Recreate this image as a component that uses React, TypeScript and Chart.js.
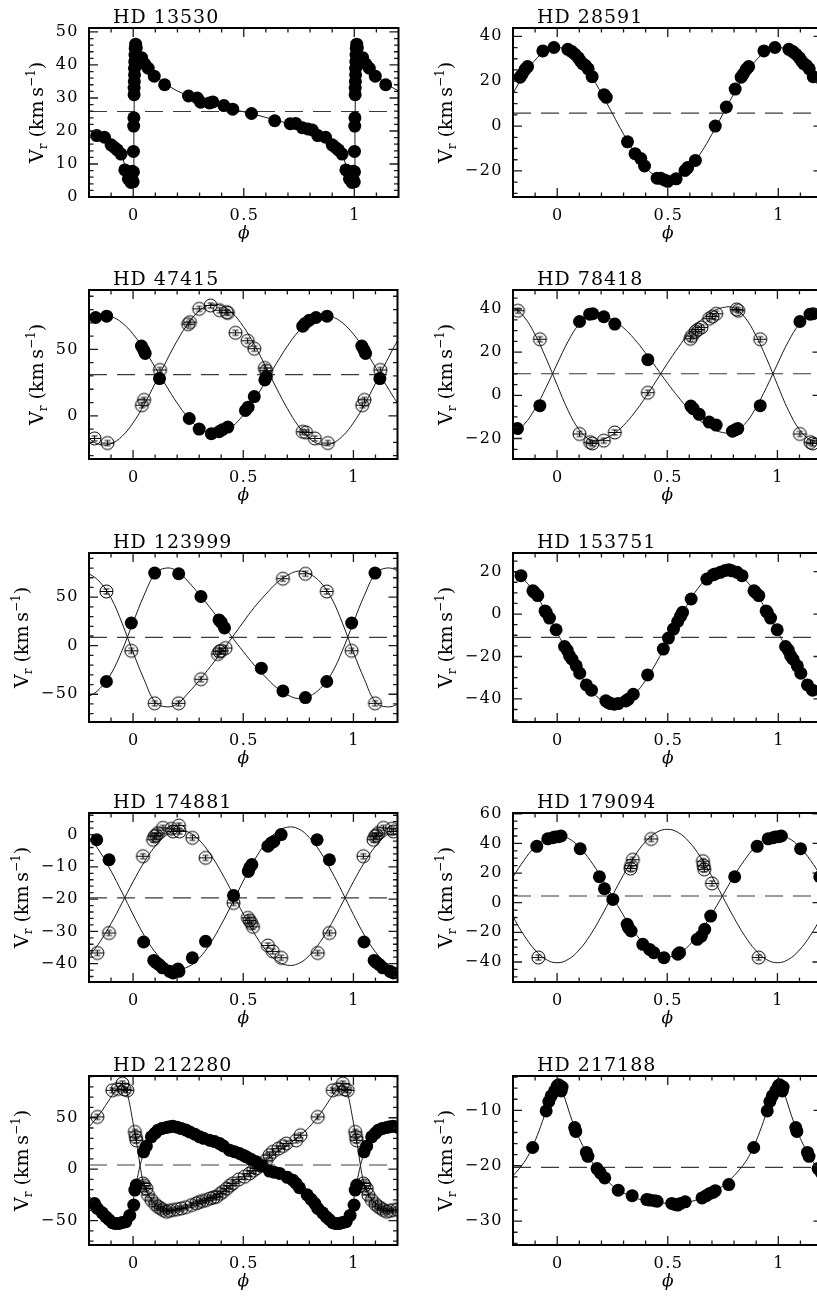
import React, { useEffect, useRef } from 'react';
import { Chart, registerables } from 'chart.js';

Chart.register(...registerables);

type Pt = [number, number];

// ---------- shared axis values ----------
const PHASE_LABELS = [0, 0.5, 1];
const PHASE_TICKS = [-0.1, 0, 0.1, 0.2, 0.3, 0.4, 0.5, 0.6, 0.7, 0.8, 0.9, 1, 1.1];
const CURVE_PHASES = [0, 0.05, 0.1, 0.15, 0.2, 0.25, 0.3, 0.35, 0.4, 0.45, 0.5, 0.55, 0.6, 0.65, 0.7, 0.75, 0.8, 0.85, 0.9, 0.95];

// ---------- panel descriptors ----------
const TITLES = ['HD 13530', 'HD 28591', 'HD 47415', 'HD 78418', 'HD 123999', 'HD 153751', 'HD 174881', 'HD 179094', 'HD 212280', 'HD 217188'];
const Y_MIN = [0, -31.6, -32.5, -29.5, -78.6, -50.9, -45.7, -53.5, -73.8, -34.3];
const Y_MAX = [51.2, 43.7, 94.7, 48.8, 95.5, 28.8, 6.7, 60.5, 90.6, -3.8];
const Y_MAJOR = [10, 20, 50, 20, 50, 20, 10, 20, 50, 10];
const Y_MINOR = [2, 5, 10, 5, 10, 5, 2, 5, 10, 2];
const GAMMA = [25.9, 5.8, 31, 10, 8.6, -11, -19.6, 4.5, 4, -20.3];

// ---------- HD 13530 ----------
const HD13530_RV: Pt[] = [
  [0.000, 4.6], [0.001, 7.6], [0.001, 13.8], [0.002, 21.5], [0.003, 24.0], [0.004, 31.0], [0.004, 33.0],
  [0.005, 35.0], [0.006, 37.0], [0.006, 39.0], [0.007, 41.0], [0.008, 43.0], [0.009, 45.0], [0.011, 46.3],
  [0.014, 45.2], [0.022, 42.3], [0.038, 42.2], [0.052, 40.3], [0.068, 39.0], [0.095, 36.6], [0.142, 34.0],
  [0.25, 30.6], [0.29, 30.0], [0.305, 28.7], [0.345, 28.5], [0.36, 28.8], [0.41, 27.7], [0.45, 26.6],
  [0.535, 25.3], [0.64, 23.1], [0.71, 22.2], [0.735, 22.3], [0.765, 21.0], [0.79, 20.6], [0.81, 20.3],
  [0.835, 18.6], [0.87, 18.1], [0.9, 15.8], [0.915, 15.0], [0.928, 14.3], [0.945, 13.0], [0.962, 8.2],
  [0.978, 5.5], [0.99, 4.4], [0.996, 7.8],
];
const HD13530_FIT: Pt[] = [
  [0.000, 5.5], [0.003, 20], [0.006, 38], [0.009, 45.5], [0.012, 46.2], [0.02, 43.8], [0.04, 41.3],
  [0.06, 39.6], [0.08, 38.0], [0.1, 36.7], [0.15, 34.0], [0.2, 32.1], [0.25, 30.6], [0.3, 29.4],
  [0.35, 28.4], [0.4, 27.5], [0.45, 26.6], [0.5, 25.8], [0.55, 25.0], [0.6, 24.1], [0.65, 23.2],
  [0.7, 22.3], [0.75, 21.3], [0.8, 20.2], [0.85, 18.7], [0.9, 16.4], [0.93, 14.4], [0.95, 12.3],
  [0.965, 9.0], [0.98, 5.5], [0.99, 4.3], [0.996, 4.5],
];

// ---------- HD 28591 ----------
const HD28591_RV: Pt[] = [
  [0.048, 34.2], [0.066, 33.2], [0.08, 32.0], [0.095, 30.5], [0.105, 29.0], [0.115, 27.8], [0.128, 27.0],
  [0.14, 25.5], [0.158, 22.0], [0.212, 14.0], [0.222, 12.8], [0.318, -7.0], [0.352, -12.3], [0.378, -14.5],
  [0.395, -17.8], [0.452, -23.2], [0.468, -23.3], [0.485, -24.0], [0.5, -24.6], [0.538, -23.5], [0.578, -19.8],
  [0.59, -18.5], [0.625, -15.3], [0.715, 0.0], [0.765, 8.5], [0.805, 16.5], [0.832, 21.8], [0.842, 23.2],
  [0.855, 25.3], [0.866, 26.5], [0.935, 33.5], [0.985, 35.0],
];
const HD28591_FIT = [35.0, 33.6, 29.4, 22.9, 14.6, 5.5, -3.6, -11.9, -18.4, -22.6, -24.0, -22.6, -18.4, -11.9, -3.6, 5.5, 14.6, 22.9, 29.4, 33.6];

// ---------- HD 47415 ----------
const HD47415_A: Pt[] = [
  [0.038, 52.5], [0.048, 49.5], [0.055, 47.0], [0.12, 28.0], [0.255, -2.0], [0.30, -10.0], [0.355, -13.5],
  [0.39, -12.0], [0.405, -10.5], [0.43, -8.5], [0.51, 4.0], [0.522, 6.5], [0.55, 14.5], [0.598, 27.0],
  [0.605, 29.5], [0.77, 67.5], [0.78, 69.5], [0.80, 72.0], [0.83, 74.0], [0.88, 75.0],
];
const HD47415_B: Pt[] = [
  [0.04, 8.0], [0.05, 12.0], [0.122, 34.5], [0.25, 69.0], [0.258, 70.5], [0.30, 80.5], [0.352, 83.0],
  [0.393, 79.5], [0.425, 78.0], [0.43, 77.5], [0.465, 62.5], [0.52, 56.5], [0.55, 50.5], [0.598, 36.0],
  [0.604, 34.0], [0.77, -12.0], [0.785, -12.5], [0.825, -17.0], [0.884, -20.5],
];
const HD47415_FIT_A = [61.5, 50.0, 36.6, 22.7, 9.6, -1.4, -9.3, -13.1, -12.7, -8.0, 0.5, 12.0, 25.4, 39.3, 52.4, 63.4, 71.3, 75.1, 74.7, 70.0];
const HD47415_FIT_B = [-5.3, 8.4, 24.4, 40.9, 56.5, 69.6, 79.0, 83.6, 83.0, 77.4, 67.3, 53.6, 37.6, 21.1, 5.5, -7.6, -17.0, -21.6, -21.0, -15.4];

// ---------- HD 78418 ----------
const HD78418_A: Pt[] = [
  [0.102, 34.2], [0.148, 37.6], [0.162, 37.8], [0.212, 36.4], [0.262, 33.0], [0.412, 16.5], [0.607, -5.0],
  [0.618, -6.2], [0.645, -8.8], [0.69, -12.4], [0.722, -13.8], [0.796, -16.6], [0.808, -16.0], [0.82, -15.4],
  [0.922, -4.8],
];
const HD78418_B: Pt[] = [
  [0.102, -17.9], [0.15, -21.7], [0.16, -22.3], [0.212, -21.0], [0.262, -17.2], [0.412, 1.2], [0.605, 26.2],
  [0.612, 27.5], [0.628, 29.5], [0.64, 30.5], [0.655, 31.5], [0.69, 35.5], [0.705, 36.5], [0.722, 37.8],
  [0.815, 39.8], [0.822, 39.2], [0.922, 26.0],
];
const HD78418_FIT_A = [14.5, 25.0, 33.0, 37.1, 37.2, 35.1, 31.4, 26.2, 19.8, 12.9, 5.8, -0.8, -6.8, -11.8, -15.3, -17.2, -17.2, -13.5, -6.2, 3.6];
const HD78418_FIT_B = [4.9, -7.0, -15.9, -20.6, -20.6, -18.3, -14.1, -8.2, -1.1, 6.7, 14.7, 22.2, 29.0, 34.5, 38.5, 40.6, 40.6, 36.4, 28.2, 17.2];

// ---------- HD 123999 ----------
const HD123999_A: Pt[] = [
  [0.098, 74.8], [0.207, 74.1], [0.308, 50.7], [0.39, 26.6], [0.4, 24.1], [0.415, 18.3], [0.582, -23.1],
  [0.68, -46.6], [0.782, -53.4], [0.879, -36.9], [0.992, 23.4],
];
const HD123999_B: Pt[] = [
  [0.098, -59.3], [0.207, -59.3], [0.308, -34.5], [0.385, -8.6], [0.392, -6.0], [0.4, -5.2], [0.42, -2.4],
  [0.68, 69.0], [0.782, 74.1], [0.879, 55.9], [0.992, -5.2],
];
const HD123999_FIT_A = [24, 52, 74, 80, 77, 66, 53, 39, 24, 8.6, -6, -20, -32, -43, -50.5, -54.5, -52, -44, -29, -5];
const HD123999_FIT_B = [-6.8, -34.8, -58, -63, -60, -48.8, -35.8, -21.8, -6.8, 8.6, 24.4, 39.5, 52.4, 64.3, 72.4, 76.8, 74.0, 65.4, 49.2, 23.3];

// ---------- HD 153751 ----------
const HD153751_RV: Pt[] = [
  [0.033, -15.3], [0.045, -17.0], [0.056, -19.7], [0.067, -21.3], [0.086, -24.4], [0.102, -27.9], [0.132, -33.4],
  [0.155, -35.9], [0.22, -40.9], [0.232, -41.8], [0.242, -42.2], [0.258, -42.5], [0.276, -42.2], [0.31, -41.0],
  [0.321, -40.2], [0.344, -37.8], [0.409, -28.7], [0.48, -16.5], [0.503, -11.3], [0.526, -7.1], [0.545, -3.5],
  [0.558, -1.0], [0.567, 0.8], [0.606, 7.1], [0.677, 16.5], [0.705, 18.5], [0.715, 18.9], [0.738, 19.7],
  [0.76, 20.6], [0.776, 20.9], [0.79, 20.4], [0.814, 19.7], [0.836, 18.1], [0.89, 11.0], [0.897, 10.2],
  [0.912, 8.7], [0.945, 1.5], [0.95, 0.8], [0.965, -1.9], [0.995, -7.4],
];
const HD153751_FIT = [-8.8, -18.8, -27.9, -35.5, -40.6, -42.7, -41.8, -37.8, -31.2, -22.6, -12.8, -2.8, 6.4, 13.9, 19.0, 21.1, 20.2, 16.2, 9.6, 1.0];

// ---------- HD 174881 ----------
const HD174881_A: Pt[] = [
  [0.048, -33.3], [0.094, -39.0], [0.103, -39.6], [0.118, -40.3], [0.133, -41.3], [0.166, -42.4], [0.181, -42.9],
  [0.204, -41.7], [0.208, -42.4], [0.269, -38.2], [0.329, -33.1], [0.456, -18.9], [0.523, -11.4], [0.529, -10.3],
  [0.539, -9.3], [0.612, -3.6], [0.627, -2.6], [0.639, -2.1], [0.672, 0.0], [0.835, -1.6], [0.891, -7.8],
];
const HD174881_B: Pt[] = [
  [0.045, -6.7], [0.091, -1.6], [0.098, -0.5], [0.105, -0.2], [0.113, 0.5], [0.136, 2.1], [0.174, 1.8],
  [0.181, 1.0], [0.208, 2.8], [0.211, 1.0], [0.269, -1.0], [0.329, -7.2], [0.456, -21.2], [0.521, -25.8],
  [0.529, -26.6], [0.536, -27.4], [0.544, -28.6], [0.612, -34.4], [0.634, -36.2], [0.672, -38.2], [0.838, -36.7],
  [0.891, -30.5],
];
const HD174881_FIT_A = [-24.8, -31.2, -36.4, -39.9, -41.5, -41.0, -38.3, -33.8, -27.9, -21.3, -14.4, -8.0, -2.8, 0.7, 2.3, 1.8, -0.9, -5.4, -11.3, -17.9];
const HD174881_FIT_B = [-14.6, -8.6, -3.6, -0.2, 1.3, 0.8, -1.7, -6.0, -11.6, -18.0, -24.6, -30.6, -35.6, -39.0, -40.5, -40.0, -37.5, -33.2, -27.6, -21.2];

// ---------- HD 179094 ----------
const HD179094_A: Pt[] = [
  [0.005, 44.5], [0.018, 45.0], [0.105, 36.4], [0.192, 17.5], [0.215, 9.4], [0.253, 2.2], [0.318, -14.6],
  [0.324, -16.9], [0.336, -19.1], [0.389, -28.1], [0.42, -31.5], [0.439, -33.7], [0.485, -37.1], [0.548, -34.8],
  [0.556, -33.7], [0.636, -24.7], [0.655, -22.5], [0.67, -18.0], [0.697, -9.0], [0.806, 17.5], [0.908, 38.0],
  [0.958, 43.1], [0.98, 43.8], [0.99, 44.3],
];
const HD179094_B: Pt[] = [
  [0.333, 23.0], [0.336, 25.0], [0.344, 29.0], [0.427, 43.0], [0.662, 28.0], [0.665, 25.0], [0.668, 22.5],
  [0.703, 13.0], [0.915, -37.0],
];
const HD179094_FIT_A = [45.5, 43.5, 37.7, 28.6, 17.2, 4.5, -8.2, -19.6, -28.7, -34.5, -36.5, -34.5, -28.7, -19.6, -8.2, 4.5, 17.2, 28.6, 37.7, 43.5];
const HD179094_FIT_B = [-40.5, -38.3, -31.9, -22.0, -9.4, 4.5, 18.4, 31.0, 40.9, 47.3, 49.5, 47.3, 40.9, 31.0, 18.4, 4.5, -9.4, -22.0, -31.9, -38.3];

// ---------- HD 212280 ----------
const HD212280_A: Pt[] = [
  [0.003, -35], [0.008, -20.4], [0.015, -15.5], [0.048, 16.8], [0.06, 22.3], [0.083, 31.4], [0.1, 35],
  [0.113, 37.9], [0.13, 39.5], [0.151, 40.5], [0.165, 41.2], [0.181, 41.7], [0.2, 40.8], [0.219, 39.5],
  [0.24, 38], [0.257, 36.2], [0.28, 34], [0.302, 31.4], [0.32, 30], [0.347, 28.2], [0.37, 26.8], [0.393, 24.9],
  [0.41, 22.5], [0.438, 18.4], [0.46, 17], [0.483, 15.2], [0.5, 13.5], [0.514, 12], [0.535, 9.5], [0.559, 7.1],
  [0.585, 3], [0.619, -1.9], [0.64, -3], [0.665, -4.2], [0.7, -8], [0.725, -10.7], [0.74, -14], [0.755, -18.1],
  [0.79, -25], [0.808, -29.4], [0.825, -33.5], [0.838, -38.2], [0.86, -42.5], [0.876, -46.3], [0.89, -49],
  [0.906, -52.1], [0.92, -53], [0.937, -52.8], [0.95, -52], [0.967, -51.1], [0.985, -45],
];
const HD212280_B: Pt[] = [
  [0.008, 36.2], [0.012, 31.4], [0.015, 28], [0.045, -13.9], [0.05, -16], [0.06, -18.8], [0.068, -25.2],
  [0.083, -30], [0.1, -34], [0.113, -36.6], [0.125, -38], [0.136, -39.8], [0.151, -41.4], [0.165, -40.5],
  [0.181, -39.8], [0.2, -39], [0.219, -38.2], [0.24, -37], [0.265, -35], [0.287, -33.3], [0.3, -32],
  [0.315, -31], [0.332, -30.1], [0.35, -28.5], [0.365, -27.5], [0.378, -26.9], [0.395, -24], [0.408, -22],
  [0.425, -19], [0.44, -16], [0.453, -13.9], [0.48, -10], [0.506, -7.4], [0.529, -4.2], [0.545, -1.5],
  [0.559, 0.6], [0.58, 4], [0.604, 8.7], [0.619, 13.6], [0.634, 16.8], [0.66, 20], [0.68, 22.5], [0.695, 24.9],
  [0.74, 28], [0.76, 33], [0.838, 50.8], [0.906, 76.7], [0.93, 78], [0.952, 83.2], [0.962, 77.5], [0.974, 76.7],
];
const HD212280_FIT_A: Pt[] = [
  [0.0, -32], [0.005, -25], [0.01, -18], [0.02, -8], [0.03, 2], [0.04, 10], [0.05, 16], [0.06, 21.5],
  [0.08, 29.5], [0.1, 34.5], [0.13, 38.8], [0.16, 41], [0.19, 41.3], [0.22, 39.8], [0.26, 36], [0.3, 32],
  [0.35, 28], [0.4, 23.5], [0.45, 18.5], [0.5, 13.5], [0.55, 8], [0.6, 2], [0.65, -4], [0.7, -10.5],
  [0.75, -17.5], [0.8, -26], [0.84, -38], [0.86, -42.5], [0.88, -47], [0.9, -50.5], [0.92, -52.5],
  [0.94, -53], [0.96, -52], [0.975, -49], [0.99, -40],
];
const HD212280_FIT_B: Pt[] = [
  [0.0, 45], [0.01, 33], [0.02, 20], [0.03, 6], [0.04, -7], [0.05, -15], [0.07, -25], [0.1, -34], [0.13, -39],
  [0.15, -40.5], [0.18, -40.2], [0.22, -38.3], [0.26, -35.5], [0.3, -32], [0.35, -28.5], [0.4, -23], [0.45, -15],
  [0.5, -8], [0.55, -1], [0.6, 7.5], [0.65, 16], [0.7, 23.5], [0.75, 31.5], [0.8, 41], [0.85, 54], [0.9, 70],
  [0.93, 79], [0.95, 82], [0.965, 79], [0.98, 68], [0.99, 57],
];

// ---------- HD 217188 ----------
const HD217188_RV: Pt[] = [
  [0.0, -5.6], [0.006, -5.4], [0.011, -6.2], [0.018, -6.5], [0.022, -5.8], [0.079, -13.1], [0.084, -13.8],
  [0.132, -17.6], [0.139, -18.3], [0.18, -20.5], [0.195, -21.3], [0.215, -22.2], [0.276, -24.4], [0.339, -25.4],
  [0.405, -26.1], [0.418, -26.2], [0.44, -26.3], [0.452, -26.4], [0.518, -26.8], [0.535, -27.0], [0.545, -27.1],
  [0.558, -26.8], [0.579, -26.5], [0.655, -25.8], [0.674, -25.4], [0.69, -25.0], [0.705, -24.8], [0.715, -24.5],
  [0.776, -23.4], [0.889, -16.7], [0.95, -10.1], [0.962, -8.4], [0.973, -7.4], [0.988, -6.5],
];
const HD217188_FIT: Pt[] = [
  [0.0, -5.5], [0.02, -6.3], [0.04, -8.5], [0.06, -11], [0.08, -13.2], [0.1, -15.1], [0.13, -17.5], [0.16, -19.5],
  [0.2, -21.6], [0.25, -23.6], [0.3, -24.9], [0.35, -25.8], [0.4, -26.3], [0.45, -26.6], [0.5, -26.8],
  [0.55, -26.8], [0.6, -26.5], [0.65, -25.9], [0.7, -24.9], [0.75, -23.6], [0.8, -21.8], [0.85, -19.4],
  [0.88, -17.3], [0.91, -14.5], [0.94, -11.2], [0.96, -8.7], [0.98, -6.7], [0.99, -6.0],
];

// ---------- assembly ----------
function onGrid(vals: number[]): Pt[] {
  return vals.map((v, i) => [CURVE_PHASES[i], v] as Pt);
}

interface Fit { pts: Pt[]; tension: number }
interface Panel {
  idx: number;
  primary: Pt[];
  secondary: Pt[];
  fits: Fit[];
}

const PANELS: Panel[] = [
  { idx: 0, primary: HD13530_RV, secondary: [], fits: [{ pts: HD13530_FIT, tension: 0 }] },
  { idx: 1, primary: HD28591_RV, secondary: [], fits: [{ pts: onGrid(HD28591_FIT), tension: 0.4 }] },
  { idx: 2, primary: HD47415_A, secondary: HD47415_B, fits: [{ pts: onGrid(HD47415_FIT_A), tension: 0.4 }, { pts: onGrid(HD47415_FIT_B), tension: 0.4 }] },
  { idx: 3, primary: HD78418_A, secondary: HD78418_B, fits: [{ pts: onGrid(HD78418_FIT_A), tension: 0.4 }, { pts: onGrid(HD78418_FIT_B), tension: 0.4 }] },
  { idx: 4, primary: HD123999_A, secondary: HD123999_B, fits: [{ pts: onGrid(HD123999_FIT_A), tension: 0.4 }, { pts: onGrid(HD123999_FIT_B), tension: 0.4 }] },
  { idx: 5, primary: HD153751_RV, secondary: [], fits: [{ pts: onGrid(HD153751_FIT), tension: 0.4 }] },
  { idx: 6, primary: HD174881_A, secondary: HD174881_B, fits: [{ pts: onGrid(HD174881_FIT_A), tension: 0.4 }, { pts: onGrid(HD174881_FIT_B), tension: 0.4 }] },
  { idx: 7, primary: HD179094_A, secondary: HD179094_B, fits: [{ pts: onGrid(HD179094_FIT_A), tension: 0.4 }, { pts: onGrid(HD179094_FIT_B), tension: 0.4 }] },
  { idx: 8, primary: HD212280_A, secondary: HD212280_B, fits: [{ pts: HD212280_FIT_A, tension: 0.2 }, { pts: HD212280_FIT_B, tension: 0.2 }] },
  { idx: 9, primary: HD217188_RV, secondary: [], fits: [{ pts: HD217188_FIT, tension: 0.3 }] },
];

// layout (page pixels)
const BOX_TOPS = [28, 290, 553, 813, 1076];
const COL_LEFT = [0, 424];
const PAD_TOP = 28;
const AXIS_W = 89;
const AXIS_H = 50;
const BOX_H = 169;
const CANVAS_W = 405;
const CANVAS_H = PAD_TOP + BOX_H + AXIS_H;
const SERIF = '"DejaVu Serif", "Liberation Serif", serif';

function fold(pts: Pt[], lo: number, hi: number) {
  const out: { x: number; y: number }[] = [];
  for (const k of [-1, 0, 1]) {
    for (const [p, v] of pts) {
      const x = p + k;
      if (x >= lo && x <= hi) out.push({ x, y: v });
    }
  }
  return out.sort((a, b) => a.x - b.x);
}

function makeOpenSymbol(r: number): HTMLCanvasElement {
  const s = Math.ceil(2 * r + 4);
  const c = document.createElement('canvas');
  c.width = s;
  c.height = s;
  const ctx = c.getContext('2d')!;
  const m = s / 2;
  ctx.strokeStyle = '#000';
  ctx.lineWidth = 1;
  ctx.beginPath();
  ctx.arc(m, m, r, 0, Math.PI * 2);
  ctx.stroke();
  ctx.beginPath();
  ctx.moveTo(m - r, m);
  ctx.lineTo(m + r, m);
  ctx.moveTo(m, m - 2.5);
  ctx.lineTo(m, m + 2.5);
  ctx.moveTo(m - 3, m - 2.5);
  ctx.lineTo(m + 3, m - 2.5);
  ctx.moveTo(m - 3, m + 2.5);
  ctx.lineTo(m + 3, m + 2.5);
  ctx.stroke();
  return c;
}

function fmtTick(v: number): string {
  if (v < 0) return '\u2212' + String(Math.abs(v));
  return String(v);
}

function majorList(min: number, max: number, step: number): number[] {
  const out: number[] = [];
  for (let k = Math.ceil(min / step); k * step <= max + 1e-9; k++) out.push(k * step);
  return out;
}

function makeFramePlugin(idx: number) {
  const yMin = Y_MIN[idx];
  const yMax = Y_MAX[idx];
  const hasNeg = yMin < -Y_MAJOR[idx] * 0.99;
  return {
    id: 'pgframe',
    beforeDraw(chart: any) {
      chart.ctx.letterSpacing = '1.5px';
    },
    afterDraw(chart: any) {
      const ctx: CanvasRenderingContext2D = chart.ctx;
      const a = chart.chartArea;
      const xs = chart.scales.x;
      const ys = chart.scales.y;
      ctx.save();
      (ctx as any).letterSpacing = '0px';
      // tick marks, inward on all four sides
      ctx.strokeStyle = '#1a1a1a';
      ctx.lineWidth = 1.3;
      ctx.beginPath();
      for (const v of PHASE_TICKS) {
        const px = xs.getPixelForValue(v);
        const len = PHASE_LABELS.includes(v) ? 9 : 4.5;
        ctx.moveTo(px, a.bottom);
        ctx.lineTo(px, a.bottom - len);
        ctx.moveTo(px, a.top);
        ctx.lineTo(px, a.top + len);
      }
      const minor = Y_MINOR[idx];
      const major = Y_MAJOR[idx];
      for (let k = Math.ceil(yMin / minor); k * minor < yMax; k++) {
        const v = k * minor;
        if (v <= yMin) continue;
        const isMajor = Math.abs(v / major - Math.round(v / major)) < 1e-6;
        const len = isMajor ? 9 : 4.5;
        const py = ys.getPixelForValue(v);
        ctx.moveTo(a.left, py);
        ctx.lineTo(a.left + len, py);
        ctx.moveTo(a.right, py);
        ctx.lineTo(a.right - len, py);
      }
      ctx.stroke();
      // frame
      ctx.strokeStyle = '#000';
      ctx.lineWidth = 2;
      ctx.strokeRect(a.left, a.top, a.right - a.left, a.bottom - a.top);
      ctx.fillStyle = '#000';
      // phase tick labels, placed through the x scale
      ctx.font = `16px ${SERIF}`;
      (ctx as any).letterSpacing = '1.5px';
      ctx.textAlign = 'center';
      ctx.textBaseline = 'middle';
      for (const v of PHASE_LABELS) {
        ctx.fillText(fmtTick(v), xs.getPixelForValue(v) + 0.75, a.bottom + 19);
      }
      // title
      ctx.font = `19px ${SERIF}`;
      (ctx as any).letterSpacing = '1px';
      ctx.textAlign = 'left';
      ctx.textBaseline = 'alphabetic';
      ctx.fillText(TITLES[idx], a.left + 24, a.top - 5);
      // phase label
      (ctx as any).letterSpacing = '0px';
      ctx.font = `italic 17px ${SERIF}`;
      ctx.textAlign = 'center';
      ctx.textBaseline = 'middle';
      ctx.fillText('\u03D5', (a.left + a.right) / 2, a.bottom + 37);
      // V_r (km s^-1)
      const parts: [string, number, number][] = [
        ['V', 19, 0],
        ['r', 12, 4],
        [' (km\u2009s', 19, 0],
        ['\u22121', 12, -8],
        [')', 19, 0],
      ];
      ctx.textAlign = 'left';
      ctx.textBaseline = 'alphabetic';
      let total = 0;
      for (const [t, s] of parts) {
        ctx.font = `${s}px ${SERIF}`;
        total += ctx.measureText(t).width;
      }
      const bx = a.left - (hasNeg ? 61 : 46);
      ctx.translate(bx, (a.top + a.bottom) / 2);
      ctx.rotate(-Math.PI / 2);
      let cx = -total / 2;
      for (const [t, s, dy] of parts) {
        ctx.font = `${s}px ${SERIF}`;
        ctx.fillText(t, cx, dy);
        cx += ctx.measureText(t).width;
      }
      ctx.restore();
    },
  };
}

function PanelChart({ panel }: { panel: Panel }) {
  const ref = useRef<HTMLCanvasElement | null>(null);
  const idx = panel.idx;
  const row = Math.floor(idx / 2);
  const col = idx % 2;
  useEffect(() => {
    if (!ref.current) return;
    const openSym = makeOpenSymbol(6.5);
    const datasets: any[] = [];
    datasets.push({
      data: fold(panel.primary, -0.185, 1.2),
      showLine: false,
      pointStyle: 'circle',
      pointRadius: 6.5,
      pointHoverRadius: 6.5,
      pointBackgroundColor: '#000',
      pointBorderColor: '#000',
      pointBorderWidth: 0,
    });
    if (panel.secondary.length) {
      datasets.push({
        data: fold(panel.secondary, -0.185, 1.2),
        showLine: false,
        pointStyle: openSym,
        pointRadius: 6.5,
        pointHoverRadius: 6.5,
      });
    }
    for (const f of panel.fits) {
      datasets.push({
        data: fold(f.pts, -0.3, 1.3),
        showLine: true,
        tension: f.tension,
        pointRadius: 0,
        pointHoverRadius: 0,
        borderColor: '#1a1a1a',
        borderWidth: 1,
        fill: false,
      });
    }
    datasets.push({
      data: [
        { x: -0.2, y: GAMMA[idx] },
        { x: 1.2, y: GAMMA[idx] },
      ],
      showLine: true,
      pointRadius: 0,
      pointHoverRadius: 0,
      borderColor: '#3a3a3a',
      borderWidth: 1.2,
      borderDash: [18, 10],
      fill: false,
    });
    const tickFont = { family: SERIF, size: 16 };
    const chart = new Chart(ref.current, {
      type: 'scatter',
      data: { datasets },
      options: {
        animation: false,
        responsive: false,
        devicePixelRatio: 1,
        events: [],
        layout: { padding: { top: PAD_TOP, right: 6, left: 0, bottom: 0 } },
        plugins: { legend: { display: false }, tooltip: { enabled: false }, title: { display: false } },
        scales: {
          x: {
            type: 'linear',
            position: 'bottom',
            min: -0.2,
            max: 1.2,
            grid: { display: false, drawTicks: false },
            border: { display: false },
            afterBuildTicks: (s: any) => {
              s.ticks = PHASE_LABELS.map((v) => ({ value: v }));
            },
            afterFit: (s: any) => {
              s.height = AXIS_H;
            },
            ticks: { display: false },
          },
          y: {
            type: 'linear',
            position: 'left',
            min: Y_MIN[idx],
            max: Y_MAX[idx],
            grid: { display: false, drawTicks: false },
            border: { display: false },
            afterBuildTicks: (s: any) => {
              s.ticks = majorList(Y_MIN[idx], Y_MAX[idx], Y_MAJOR[idx]).map((v) => ({ value: v }));
            },
            afterFit: (s: any) => {
              s.width = AXIS_W;
            },
            ticks: {
              padding: 10,
              color: '#000',
              font: tickFont,
              autoSkip: false,
              callback: (v: any) => fmtTick(Number(v)),
            },
          },
        },
      } as any,
      plugins: [makeFramePlugin(idx)],
    });
    return () => chart.destroy();
  }, [panel]);
  return (
    <canvas
      ref={ref}
      width={CANVAS_W}
      height={CANVAS_H}
      style={{
        position: 'absolute',
        left: COL_LEFT[col],
        top: BOX_TOPS[row] - PAD_TOP,
        width: CANVAS_W,
        height: CANVAS_H,
      }}
    />
  );
}

export default function App() {
  return (
    <div
      style={{
        position: 'absolute',
        left: 0,
        top: 0,
        width: 817,
        height: 1297,
        overflow: 'hidden',
        background: '#fff',
      }}
    >
      {PANELS.map((p) => (
        <PanelChart key={p.idx} panel={p} />
      ))}
    </div>
  );
}
